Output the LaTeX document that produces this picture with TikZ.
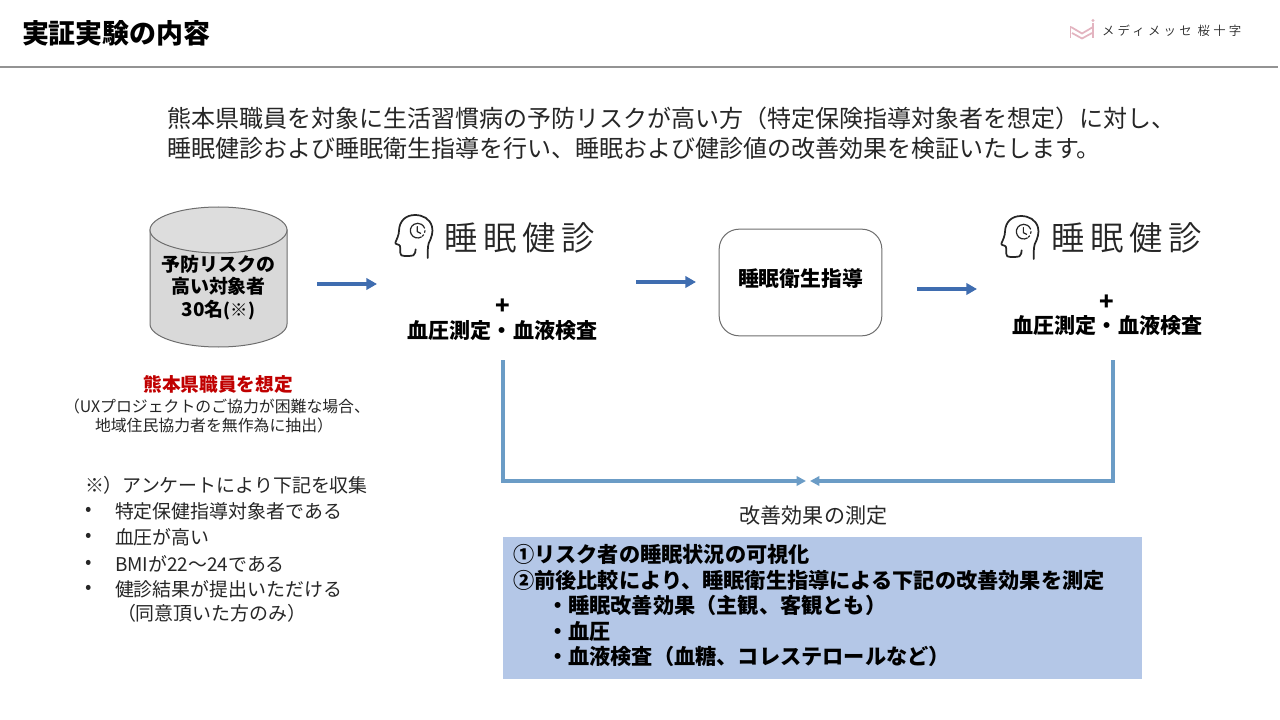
\documentclass[tikz,border=0pt]{standalone}
\usepackage{fontspec}
\setmainfont{Noto Sans CJK JP}
\newfontfamily\thinjp[LetterSpace=17]{Noto Sans CJK JP DemiLight}
\newfontfamily\logojp[LetterSpace=26]{Noto Sans CJK JP DemiLight}
\definecolor{ink}{HTML}{262626}
\definecolor{flowblue}{HTML}{3F6DB0}
\definecolor{measureblue}{HTML}{6B9CC6}
\definecolor{panelblue}{HTML}{B4C7E7}
\definecolor{dbgray}{HTML}{D9D9D9}
\definecolor{dbline}{HTML}{6E6E6E}
\definecolor{alertred}{HTML}{C00000}
\definecolor{logopink}{HTML}{E3B4C0}
\usetikzlibrary{arrows.meta}
\tikzset{
  lbl/.style={inner sep=0pt,outer sep=0pt,text=ink,anchor=west,font=\fontsize{#1}{#1}\selectfont},
  lblc/.style={inner sep=0pt,outer sep=0pt,text=ink,anchor=center,font=\fontsize{#1}{#1}\selectfont},
  blbl/.style={inner sep=0pt,outer sep=0pt,text=black,anchor=west,font=\bfseries\fontsize{#1}{#1}\selectfont},
  blblc/.style={inner sep=0pt,outer sep=0pt,text=black,anchor=center,font=\bfseries\fontsize{#1}{#1}\selectfont},
  flowarrow/.style={draw=flowblue,line width=3pt,-{Triangle[length=8pt,width=8.5pt]}},
  measurearrow/.style={draw=measureblue,line width=2.3pt,-{Triangle[length=7pt,width=7pt]}},
  iconline/.style={draw=ink,line width=1.3pt,line cap=round,line join=round},
}
\newcommand{\headicon}[2]{%
  \begin{scope}[shift={(#1,#2)},x=0.25pt,y=-0.25pt]
    \draw[iconline] (143,174) .. controls (143,155) and (143,142) .. (146,130)
      .. controls (155,112) and (160,95) .. (156,80)
      .. controls (150,56) and (128,45) .. (105,45)
      .. controls (78,45) and (58,62) .. (57,92)
      .. controls (57,105) and (50,118) .. (46,128)
      .. controls (45,134) and (58,132) .. (60,138)
      .. controls (62,146) and (58,158) .. (64,166)
      .. controls (76,170) and (92,168) .. (100,166)
      .. controls (106,162) and (106,155) .. (107,148);
    \draw[iconline,line width=0.9pt] (124,111) arc[start angle=60,end angle=340,radius=22];
    \draw[iconline,line width=0.9pt] (112,80) -- (112,95) -- (122,100);
    \draw[iconline,dotted,line width=0.9pt] (135,92) arc[start angle=0,end angle=50,radius=22];
  \end{scope}}
\begin{document}
\begin{tikzpicture}[x=0.75pt,y=-0.75pt]
\useasboundingbox (0,0) rectangle (1280,720);
\fill[white] (0,0) rectangle (1280,720);
% header
\node[blbl=20.2pt] (title) at (22,33) {実証実験の内容};
\draw[draw=gray!85,line width=1.5pt] (0,67) -- (1278,67);
% logo
\draw[logopink,line width=1.3pt] (1070.5,26) -- (1070.5,38);
\draw[logopink,line width=1.3pt] (1093.3,23) -- (1093.3,38);
\draw[logopink,line width=1.3pt] (1071,27) -- (1082,33.5) -- (1093,27);
\draw[logopink,line width=1.3pt] (1072,33) -- (1082,38.5) -- (1092,33);
\fill[logopink] (1093,20.5) circle (1.6);
\node[lbl=9.3pt,anchor=west] (brand) at (1102,31) {\logojp メディメッセ 桜十字};
% intro
\node[lbl=18pt] (intro1) at (167,118) {熊本県職員を対象に生活習慣病の予防リスクが高い方（特定保険指導対象者を想定）に対し、};
\node[lbl=18pt] (intro2) at (167,148) {睡眠健診および睡眠衛生指導を行い、睡眠および健診値の改善効果を検証いたします。};
% cylinder
\path[fill=dbgray,draw=dbline,line width=0.75pt] (150,230) -- (150,324) arc[start angle=180,end angle=0,x radius=68.5,y radius=23] -- (287,230) -- cycle;
\path[fill=dbgray!90!white,draw=dbline,line width=0.75pt] (218.5,230) ellipse[x radius=68.5,y radius=23];
\node[blblc=14.2pt] (db1) at (218.5,264) {予防リスクの};
\node[blblc=14.2pt] (db2) at (218.5,286) {高い対象者};
\node[blblc=14.2pt] (db3) at (218.5,310) {30名{\fontsize{13pt}{13pt}\selectfont (※)}};
% below cylinder
\node[blblc=14pt,text=alertred] (red) at (218,384) {熊本県職員を想定};
\node[lblc=11.9pt] (note1) at (217,406) {（UXプロジェクトのご協力が困難な場合、};
\node[lblc=11.9pt] (note2) at (214,425) {地域住民協力者を無作為に抽出）};
% list
\node[lbl=14.2pt] (l0) at (85,485) {※）アンケートにより下記を収集};
\node[lbl=14.2pt] (b1) at (85,511) {•};
\node[lbl=14.2pt] (l1) at (115,511) {特定保健指導対象者である};
\node[lbl=14.2pt] (b2) at (85,537) {•};
\node[lbl=14.2pt] (l2) at (115,537) {血圧が高い};
\node[lbl=14.2pt] (b3) at (85,564) {•};
\node[lbl=14.2pt] (l3) at (115,564) {BMIが22〜24である};
\node[lbl=14.2pt] (b4) at (85,589) {•};
\node[lbl=14.2pt] (l4) at (115,589) {健診結果が提出いただける};
\node[lbl=14.2pt] (l5) at (117,613) {（同意頂いた方のみ）};
% left checkup
\headicon{380}{200}
\node[lbl=25pt,anchor=west] (sk1) at (444,238) {\thinjp 睡眠健診};
\node[blblc=18pt] (plus1) at (503,307) {+};
\node[blblc=15.8pt] (bp1) at (502.5,331) {血圧測定・血液検査};
% guidance
\node[draw=dbline,rounded corners=15pt,line width=0.75pt,minimum width=122pt,minimum height=80pt,inner sep=0pt] (guide) at (800.5,282.5) {};
\node[blblc=15.6pt] (guidetext) at (800.5,279) {睡眠衛生指導};
% right checkup
\headicon{986}{201}
\node[lbl=25pt,anchor=west] (sk2) at (1051,238) {\thinjp 睡眠健診};
\node[blblc=18pt] (plus2) at (1107,303) {+};
\node[blblc=15.8pt] (bp2) at (1107.5,326) {血圧測定・血液検査};
% flow arrows
\coordinate (a1s) at (317,284); \coordinate (a1e) at (377,284);
\coordinate (a2s) at (636,282); \coordinate (a2e) at (696,282);
\coordinate (a3s) at (917,289); \coordinate (a3e) at (977,289);
\draw[flowarrow] (a1s) -- (a1e);
\draw[flowarrow] (a2s) -- (a2e);
\draw[flowarrow] (a3s) -- (a3e);
% measure connectors
\coordinate (m1s) at (503,360); \coordinate (m1c) at (503,481); \coordinate (m1e) at (806,481);
\coordinate (m2s) at (1113,360); \coordinate (m2c) at (1113,481); \coordinate (m2e) at (810,481);
\draw[measurearrow] (m1s) -- (m1c) -- (m1e);
\draw[measurearrow] (m2s) -- (m2c) -- (m2e);
\node[lblc=15.8pt] (effect) at (813.5,516) {改善効果の測定};
% panel
\node[fill=panelblue,draw=none,minimum width=479.25pt,minimum height=106.5pt,inner sep=0pt,anchor=north west] (panel) at (503,537) {};
\node[blbl=15.9pt] (p1) at (513,554) {①リスク者の睡眠状況の可視化};
\node[blbl=15.9pt] (p2) at (513,580) {②前後比較により、睡眠衛生指導による下記の改善効果を測定};
\node[blbl=15.9pt] (p3) at (547,605) {・睡眠改善効果（主観、客観とも）};
\node[blbl=15.9pt] (p4) at (547,631) {・血圧};
\node[blbl=15.9pt] (p5) at (547,656) {・血液検査（血糖、コレステロールなど）};
\end{tikzpicture}
\end{document}
